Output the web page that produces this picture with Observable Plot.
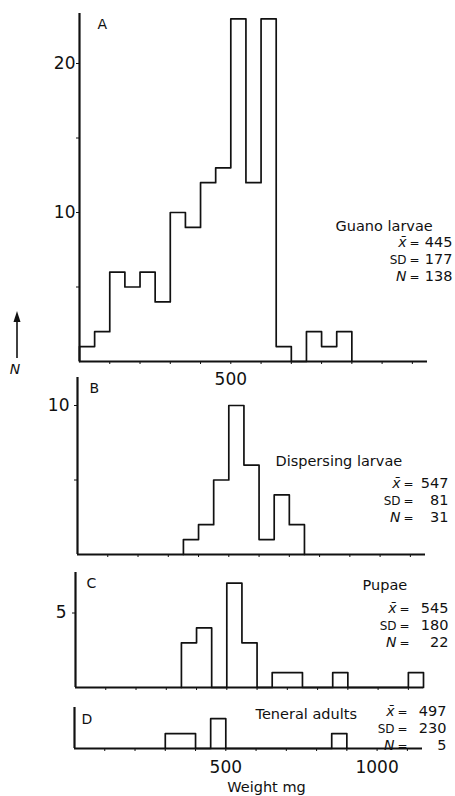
<!DOCTYPE html>
<html><head><meta charset="utf-8">
<script src="https://cdn.jsdelivr.net/npm/d3@7"></script>
<script src="https://cdn.jsdelivr.net/npm/@observablehq/plot@0.6"></script>
<style>
body{margin:0;background:#fff;}
#wrap{position:relative;width:455px;height:796px;overflow:hidden;font-family:"DejaVu Sans",sans-serif;color:#111;}
#wrap > div{position:absolute;left:0;}
</style>
</head><body><div id="wrap"></div>
<script>
// ---------- data ----------
const binWidth = 50; // mg
const binsA = [0,50,100,150,200,250,300,350,400,450,500,550,600,650,700,750,800,850];
const countsA = [1,2,6,5,6,4,10,9,12,13,23,12,23,1,0,2,1,2];
const binsB = [350,400,450,500,550,600,650,700];
const countsB = [1,2,5,10,6,1,4,2];
const binsC = [350,400,450,500,550,600,650,700,750,800,850,900,950,1000,1050,1100];
const countsC = [3,4,0,7,3,0,1,1,0,0,1,0,0,0,0,1];
const binsD = [300,350,400,450,500,550,600,650,700,750,800,850];
const countsD = [1,1,0,2,0,0,0,0,0,0,0,1];

const panelLetters = ["A","B","C","D"];
const groupNames = ["Guano larvae","Dispersing larvae","Pupae","Teneral adults"];
const means = [445,547,545,497];
const sds = [177,81,180,230];
const ns = [138,31,22,5];

const xDomain = [0,1150];
const xTicks = [100,200,300,400,500,600,700,800,900,1000,1100];
const xLabelsA = [500];
const xLabelsD = [500,1000];
const yTicksA = [5,10,15,20], yLabelsA = [10,20];
const yTicksB = [5,10], yLabelsB = [10];
const yTicksC = [5], yLabelsC = [5];
const xTitle = "Weight mg";
const yTitle = "N";

// ---------- layout (page pixels) ----------
const pxPerUnit = 14.9;
const pxPerMg = 348/1150;
const layout = [
  {top:0,   mt:13, ml:79, innerH:348, mb:36, ytp:1, xtp:8,
   letter:[97,28], name:[335,230], stats:[246,263,280], eq:414, num:452},
  {top:367, mt:10, ml:77, innerH:177, mb:10, ytp:5, xtp:8,
   letter:[89,392], name:[275,465], stats:[487,504,521], eq:408, num:448},
  {top:562, mt:10, ml:75, innerH:115, mb:10, ytp:6, xtp:8,
   letter:[86,587], name:[362,589], stats:[612,629,646], eq:404, num:448},
  {top:697, mt:10, ml:74, innerH:41, mb:48, ytp:5, xtp:9,
   letter:[81,723], name:[255,718], stats:[715,732,749], eq:402, num:446}
];
const panelData = [
  {bins:binsA, counts:countsA, yTicks:yTicksA, yLabels:yLabelsA, xLabels:xLabelsA},
  {bins:binsB, counts:countsB, yTicks:yTicksB, yLabels:yLabelsB, xLabels:[]},
  {bins:binsC, counts:countsC, yTicks:yTicksC, yLabels:yLabelsC, xLabels:[]},
  {bins:binsD, counts:countsD, yTicks:null, yLabels:[], xLabels:xLabelsD}
];

function stepPoints(bins, counts) {
  const pts = [{x: bins[0], y: 0}];
  bins.forEach((b, i) => pts.push({x: b, y: counts[i]}));
  pts.push({x: bins[bins.length - 1] + binWidth, y: 0});
  return pts;
}

const wrap = document.getElementById("wrap");

layout.forEach((L, i) => {
  const D = panelData[i];
  const innerW = (xDomain[1] - xDomain[0]) * pxPerMg;
  const width = 455;
  const mr = width - L.ml - innerW;
  const height = L.mt + L.innerH + L.mb;
  const fx = px => px - L.ml;                 // page x -> frame-relative dx
  const fy = py => py - L.top - L.mt;         // page y -> frame-relative dy
  const T = (txt, x, y, o = {}) => Plot.text([txt], {text: d => d, frameAnchor: "top-left",
    dx: fx(x), dy: fy(y), lineAnchor: "bottom", fill: "#111", ...o});

  const stats = [
    [["x\u0304", {fontStyle: "italic", fontSize: 14}], means[i]],
    [["SD", {fontSize: 12}], sds[i]],
    [["N", {fontStyle: "italic", fontSize: 14}], ns[i]]
  ];
  const statMarks = [];
  stats.forEach(([[sym, so], val], k) => {
    const yb = L.stats[k];
    statMarks.push(T(sym, L.eq - 8, yb, {textAnchor: "end", ...so}));
    statMarks.push(T("=", L.eq, yb, {textAnchor: "middle", fontSize: 12}));
    statMarks.push(T(String(val), L.num, yb, {textAnchor: "end", fontSize: 14.5}));
  });

  const marks = [
    Plot.line(stepPoints(D.bins, D.counts), {x: "x", y: "y", curve: "step-after",
      stroke: "#111", strokeWidth: 1.7}),
    Plot.ruleY([0], {stroke: "#111", strokeWidth: 2.2}),
    Plot.ruleX([0], {stroke: "#111", strokeWidth: 2.2}),
    T(panelLetters[i], L.letter[0], L.letter[1], {textAnchor: "start", fontSize: 14}),
    T(groupNames[i], L.name[0], L.name[1], {textAnchor: "start", fontSize: 14.5}),
    ...statMarks
  ];
  if (i === 3) marks.push(T(xTitle, 266, 791, {textAnchor: "middle", fontSize: 14.5}));

  const chart = Plot.plot({
    width, height,
    marginLeft: L.ml, marginRight: mr, marginTop: L.mt, marginBottom: L.mb,
    style: {fontFamily: "DejaVu Sans", fontSize: "17px", background: "none", overflow: "visible", color: "#111"},
    x: {domain: xDomain, ticks: xTicks, tickSize: 3, tickPadding: L.xtp, label: null,
        tickFormat: d => D.xLabels.includes(d) ? String(d) : ""},
    y: D.yTicks ? {domain: [0, L.innerH / pxPerUnit], ticks: D.yTicks, tickSize: 3, tickPadding: L.ytp, label: null,
        tickFormat: d => D.yLabels.includes(d) ? String(d) : ""}
      : {domain: [0, L.innerH / pxPerUnit], axis: null},
    marks
  });
  const div = document.createElement("div");
  div.style.top = L.top + "px";
  div.appendChild(chart);
  wrap.appendChild(div);
});

// y-axis title: upward arrow with italic N (between panels A and B)
const yt = document.createElement("div");
yt.style.top = "0px";
yt.innerHTML = `<svg width="40" height="400" style="overflow:visible">
  <line x1="17" y1="358" x2="17" y2="318" stroke="#111" stroke-width="1.6"/>
  <path d="M17 311 L13.5 322 L20.5 322 Z" fill="#111"/>
  <text x="15" y="374" text-anchor="middle" font-family="DejaVu Sans" font-style="italic" font-size="14" fill="#111">${yTitle}</text>
</svg>`;
wrap.appendChild(yt);
</script>
</body></html>
